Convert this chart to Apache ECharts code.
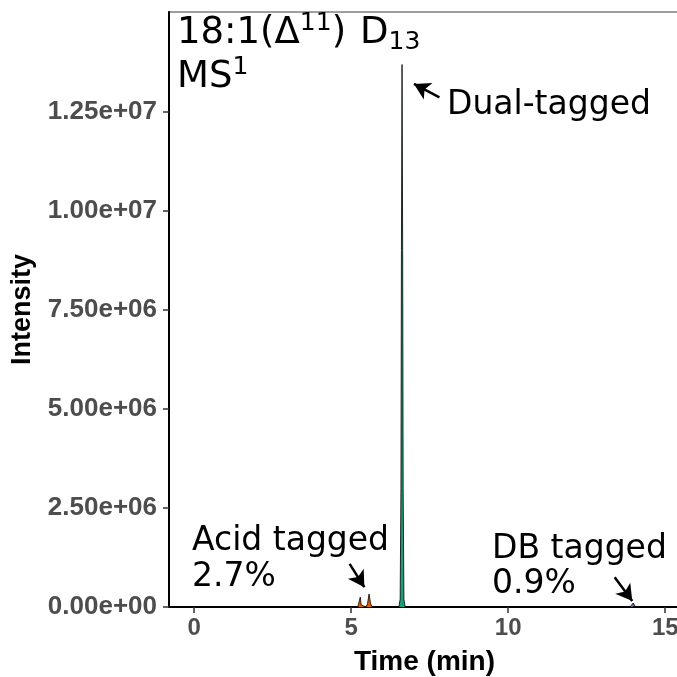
<!DOCTYPE html>
<html>
<head>
<meta charset="utf-8">
<script src="https://cdn.jsdelivr.net/npm/echarts@6/dist/echarts.min.js"></script>
<style>
html,body{margin:0;padding:0;background:#fff;}
#chart{width:677px;height:677px;}
</style>
</head>
<body>
<div id="chart"></div>
<script>
// ---- data ----
const xTicks = [0, 5, 10, 15];
const yTicks = [0, 2.5e6, 5e6, 7.5e6, 1e7, 1.25e7];

const acidTime = [5.21, 5.26, 5.29, 5.32, 5.37, 5.47, 5.52, 5.57, 5.62, 5.67];
const acidInt  = [0, 0.05e6, 0.25e6, 0.05e6, 0, 0, 0.08e6, 0.33e6, 0.08e6, 0];

const dualTime = [6.52, 6.56, 6.585, 6.60, 6.62, 6.64, 6.655, 6.68, 6.72];
const dualInt  = [0, 0.2e6, 3e6, 9e6, 13.7e6, 9e6, 3e6, 0.2e6, 0];

const dbTime = [13.88, 13.93, 13.98, 14.03, 14.08];
const dbInt  = [0, 0.03e6, 0.1e6, 0.03e6, 0];

const otherTime = [7.40, 7.45, 7.50];
const otherInt  = [0, 0.04e6, 0];

// arrows: [tailX, tailY, headX, headY]
const arrowDual = [7.81, 12.87e6, 7.00, 13.21e6];
const arrowAcid = [4.95, 1.09e6, 5.42, 0.50e6];
const arrowDB   = [13.39, 0.75e6, 13.95, 0.15e6];

const colors = { acid: '#d95f02', dual: '#1b9e77', db: '#7570b3' };

function pairs(xs, ys) { return xs.map((x, i) => [x, ys[i]]); }
function arrow(a) {
  return [[{ coord: [a[0], a[1]], symbol: 'none' }, { coord: [a[2], a[3]], symbol: 'arrow' }]];
}
function fmtSci(v) {
  if (v === 0) return '0.00e+00';
  const e = Math.floor(Math.log10(v));
  const m = v / Math.pow(10, e);
  return m.toFixed(2) + 'e+' + (e < 10 ? '0' + e : e);
}

const chart = echarts.init(document.getElementById('chart'), null, { renderer: 'canvas' });

function peak(name, xs, ys, color, arr) {
  const s = {
    name: name, type: 'line', data: pairs(xs, ys), symbol: 'none', smooth: false,
    lineStyle: { color: '#000', width: 0.8 },
    areaStyle: { color: color, opacity: 1, origin: 'start' },
    z: 3, silent: true
  };
  if (arr) {
    s.markLine = {
      silent: true, symbolSize: [14, 16],
      lineStyle: { color: '#000', width: 2.5, type: 'solid' },
      label: { show: false },
      data: arrow(arr)
    };
  }
  return s;
}

const ann = 'DejaVu Sans';
const axisFont = 'Liberation Sans';

chart.setOption({
  animation: false,
  backgroundColor: '#fff',
  grid: { left: 169, right: -3, top: 12, bottom: 70, show: true, borderColor: '#7f7f7f', borderWidth: 1.5,
          containLabel: false, outerBoundsMode: 'none' },
  xAxis: {
    type: 'value', min: -0.8, max: 15.47,
    name: 'Time (min)', nameLocation: 'middle', nameGap: 41,
    nameTextStyle: { fontFamily: axisFont, fontWeight: 'bold', fontSize: 28, color: '#000' },
    axisLine: { show: true, onZero: false, lineStyle: { color: '#000', width: 2 } },
    axisTick: { show: true, customValues: xTicks, length: 6, lineStyle: { color: '#333', width: 1.5 } },
    axisLabel: { customValues: xTicks, fontFamily: axisFont, fontWeight: 'bold', fontSize: 24, color: '#4d4d4d', margin: 9 },
    splitLine: { show: false }
  },
  yAxis: {
    type: 'value', min: 0, max: 1.5025e7,
    name: 'Intensity', nameLocation: 'middle', nameGap: 133, nameRotate: 90,
    nameTextStyle: { fontFamily: axisFont, fontWeight: 'bold', fontSize: 27, color: '#000' },
    axisLine: { show: true, onZero: false, lineStyle: { color: '#000', width: 2 } },
    axisTick: { show: true, customValues: yTicks, length: 6, lineStyle: { color: '#333', width: 1.5 } },
    axisLabel: { customValues: yTicks, formatter: fmtSci, fontFamily: axisFont, fontWeight: 'bold', fontSize: 26, color: '#4d4d4d', margin: 12 },
    splitLine: { show: false }
  },
  series: [
    peak('Other', otherTime, otherInt, '#000', null),
    peak('Acid tagged', acidTime, acidInt, colors.acid, arrowAcid),
    peak('Dual-tagged', dualTime, dualInt, colors.dual, arrowDual),
    peak('DB tagged', dbTime, dbInt, colors.db, arrowDB)
  ],
  graphic: [
    { type: 'text', left: 177, top: 11, z: 10, style: {
        text: '{t|18:1(Δ}{sup|11}{t|)}{d|D}{sub|13}\n{t|MS}{sup|1}',
        fill: '#000',
        rich: {
          t: { fontFamily: ann, fontSize: 37, lineHeight: 44, fill: '#000' },
          d: { fontFamily: ann, fontSize: 37, lineHeight: 44, padding: [0, 0, 0, 14], fill: '#000' },
          sup: { fontFamily: ann, fontSize: 25, lineHeight: 44, verticalAlign: 'top', padding: [0, 0, 14, 0], fill: '#000' },
          sub: { fontFamily: ann, fontSize: 25, lineHeight: 44, verticalAlign: 'bottom', padding: [10, 0, 0, 0], fill: '#000' }
        }
    } },
    { type: 'text', left: 447, top: 89, z: 10, style: { text: 'Dual-tagged', fontFamily: ann, fontSize: 33, fill: '#000' } },
    { type: 'text', left: 192, top: 523, z: 10, style: { text: 'Acid tagged\n2.7%', fontFamily: ann, fontSize: 33, lineHeight: 36, fill: '#000' } },
    { type: 'text', left: 492, top: 532, z: 10, style: { text: 'DB tagged\n0.9%', fontFamily: ann, fontSize: 33, lineHeight: 35, fill: '#000' } }
  ]
});
</script>
</body>
</html>
